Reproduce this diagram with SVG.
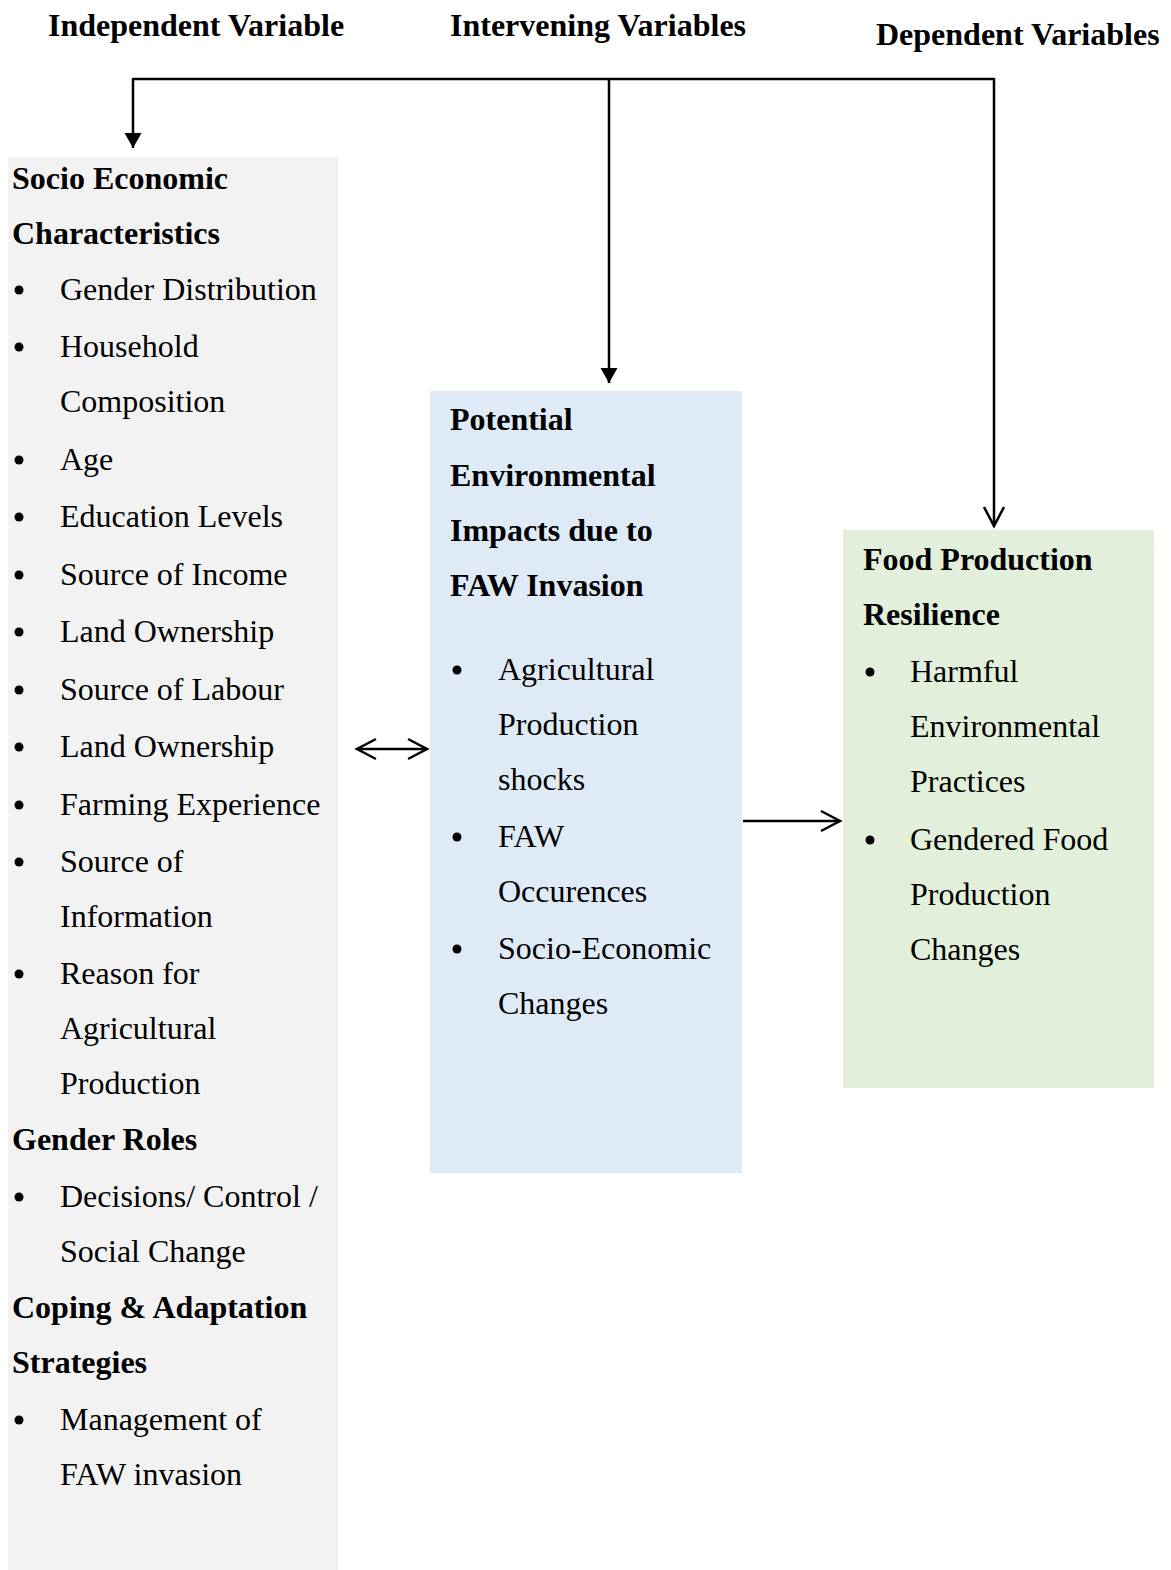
<svg xmlns="http://www.w3.org/2000/svg" width="1171" height="1570" viewBox="0 0 1171 1570">
<style>
text{font-family:"Liberation Serif","Times New Roman",serif;font-size:32px;fill:#000}
.b{font-weight:bold}
.ln{stroke:#000;stroke-width:2.5;fill:none}
.dot{fill:#000}
</style>
<defs>
<marker id="tri" markerUnits="userSpaceOnUse" markerWidth="18" markerHeight="18" refX="15" refY="8.5" orient="auto">
<path d="M0,0 L15,8.5 L0,17 Z" fill="#000"/>
</marker>
<marker id="vee" markerUnits="userSpaceOnUse" markerWidth="24" markerHeight="26" refX="20" refY="12" orient="auto-start-reverse">
<path d="M1,2 L20,12 L1,22" fill="none" stroke="#000" stroke-width="2.5"/>
</marker>
</defs>
<rect width="1171" height="1570" fill="#fff"/>
<g id="headers">
<text class="b" x="48" y="36">Independent Variable</text>
<text class="b" x="450" y="36">Intervening Variables</text>
<text class="b" x="876" y="45">Dependent Variables</text>
</g>
<g id="node-independent">
<rect x="8" y="157" width="330" height="1413" fill="#f2f2f2"/>
<text class="b" x="12" y="189">Socio Economic</text>
<text class="b" x="12" y="244">Characteristics</text>
<circle class="dot" cx="19" cy="290" r="4.5"/><text x="60" y="300">Gender Distribution</text>
<circle class="dot" cx="19" cy="347" r="4.5"/><text x="60" y="357">Household</text>
<text x="60" y="412">Composition</text>
<circle class="dot" cx="19" cy="460" r="4.5"/><text x="60" y="470">Age</text>
<circle class="dot" cx="19" cy="517" r="4.5"/><text x="60" y="527">Education Levels</text>
<circle class="dot" cx="19" cy="575" r="4.5"/><text x="60" y="585">Source of Income</text>
<circle class="dot" cx="19" cy="632" r="4.5"/><text x="60" y="642">Land Ownership</text>
<circle class="dot" cx="19" cy="690" r="4.5"/><text x="60" y="700">Source of Labour</text>
<circle class="dot" cx="19" cy="747" r="4.5"/><text x="60" y="757">Land Ownership</text>
<circle class="dot" cx="19" cy="805" r="4.5"/><text x="60" y="815">Farming Experience</text>
<circle class="dot" cx="19" cy="862" r="4.5"/><text x="60" y="872">Source of</text>
<text x="60" y="927">Information</text>
<circle class="dot" cx="19" cy="974" r="4.5"/><text x="60" y="984">Reason for</text>
<text x="60" y="1039">Agricultural</text>
<text x="60" y="1094">Production</text>
<text class="b" x="12" y="1150">Gender Roles</text>
<circle class="dot" cx="19" cy="1197" r="4.5"/><text x="60" y="1207">Decisions/ Control /</text>
<text x="60" y="1262">Social Change</text>
<text class="b" x="12" y="1318">Coping &amp; Adaptation</text>
<text class="b" x="12" y="1373">Strategies</text>
<circle class="dot" cx="19" cy="1420" r="4.5"/><text x="60" y="1430">Management of</text>
<text x="60" y="1485">FAW invasion</text>
</g>
<g id="node-intervening">
<rect x="430" y="391" width="312" height="782" fill="#deeaf6"/>
<text class="b" x="450" y="430">Potential</text>
<text class="b" x="450" y="486">Environmental</text>
<text class="b" x="450" y="541">Impacts due to</text>
<text class="b" x="450" y="596">FAW Invasion</text>
<circle class="dot" cx="457" cy="670" r="4.5"/><text x="498" y="680">Agricultural</text>
<text x="498" y="735">Production</text>
<text x="498" y="790">shocks</text>
<circle class="dot" cx="457" cy="837" r="4.5"/><text x="498" y="847">FAW</text>
<text x="498" y="902">Occurences</text>
<circle class="dot" cx="457" cy="949" r="4.5"/><text x="498" y="959">Socio-Economic</text>
<text x="498" y="1014">Changes</text>
</g>
<g id="node-dependent">
<rect x="843" y="530" width="311" height="558" fill="#e2efda"/>
<text class="b" x="863" y="570">Food Production</text>
<text class="b" x="863" y="625">Resilience</text>
<circle class="dot" cx="870" cy="672" r="4.5"/><text x="910" y="682">Harmful</text>
<text x="910" y="737">Environmental</text>
<text x="910" y="792">Practices</text>
<circle class="dot" cx="870" cy="840" r="4.5"/><text x="910" y="850">Gendered Food</text>
<text x="910" y="905">Production</text>
<text x="910" y="960">Changes</text>
</g>
<g id="connectors">
<path class="ln" d="M133,79 L994,79"/>
<path class="ln" d="M133,78 L133,148" marker-end="url(#tri)"/>
<path class="ln" d="M609,79 L609,383" marker-end="url(#tri)"/>
<path class="ln" d="M994,78 L994,526" marker-end="url(#vee)"/>
<path class="ln" d="M357,749 L427,749" marker-start="url(#vee)" marker-end="url(#vee)"/>
<path class="ln" d="M743,821 L840,821" marker-end="url(#vee)"/>
</g>
</svg>
